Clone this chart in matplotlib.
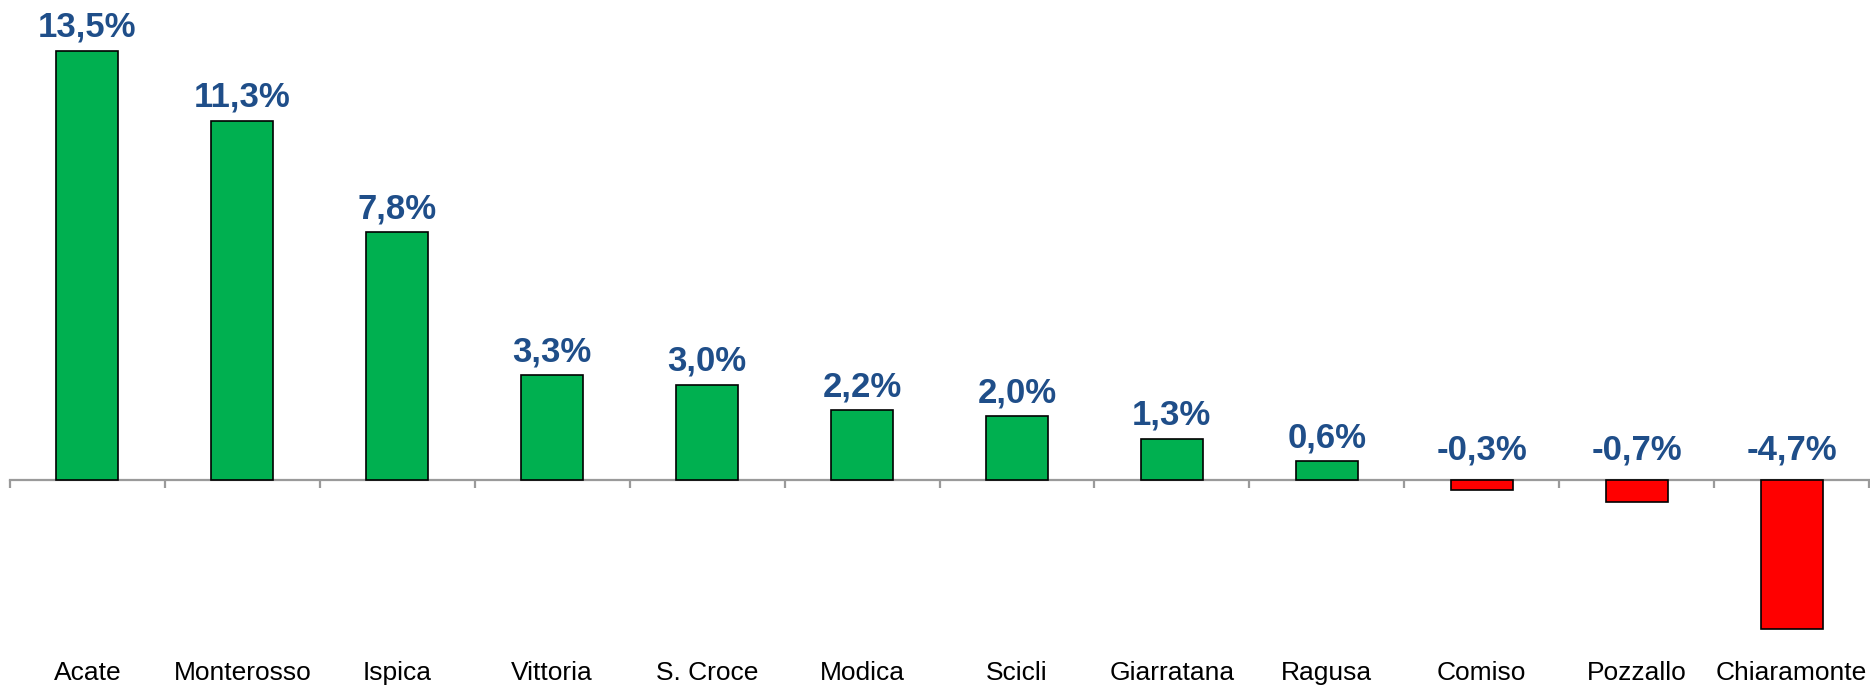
import numpy as np
import matplotlib
matplotlib.use('Agg')
import matplotlib.pyplot as plt
from matplotlib.transforms import offset_copy

comuni = ["Acate", "Monterosso", "Ispica", "Vittoria", "S. Croce", "Modica",
          "Scicli", "Giarratana", "Ragusa", "Comiso", "Pozzallo", "Chiaramonte"]
variazione = [13.5, 11.3, 7.8, 3.3, 3.0, 2.2, 2.0, 1.3, 0.6, -0.3, -0.7, -4.7]

plt.rcParams['font.family'] = ['Liberation Sans', 'DejaVu Sans']

W, H = 1870, 685
fig = plt.figure(figsize=(W / 100, H / 100), dpi=100, facecolor='white')
# axes placed in pixel units: left 10, right 1869, top 3, bottom 639
ax = fig.add_axes([10 / W, (H - 639) / H, 1859 / W, 636 / H])

x = np.arange(len(comuni))
colors = ['#00B050' if v >= 0 else '#FF0000' for v in variazione]
ax.bar(x, variazione, width=0.40, color=colors, edgecolor='black', linewidth=1.2, zorder=3)

ax.set_xlim(-0.5, len(comuni) - 0.5)
ax.set_ylim(-5, 15)

# zero axis line with boundary ticks
for s in ['top', 'right', 'left']:
    ax.spines[s].set_visible(False)
ax.spines['bottom'].set_position(('data', 0))
ax.spines['bottom'].set_color('#9a9a9a')
ax.spines['bottom'].set_linewidth(1.6)
ax.spines['bottom'].set_zorder(2)
ax.set_yticks([])
ax.set_xticks(np.arange(-0.5, len(comuni), 1.0))
ax.set_xticklabels([])
ax.tick_params(axis='x', direction='out', length=6, width=1.6, color='#9a9a9a')

# category labels at the bottom
for xi, name in zip(x, comuni):
    ax.text(xi, -0.053, name, transform=ax.get_xaxis_transform(),
            ha='center', va='center', fontsize=19, color='black')

# value labels
for xi, v in zip(x, variazione):
    base = max(v, 0)
    off = 10 if v >= 0 else 15
    tr = offset_copy(ax.transData, fig=fig, x=0, y=off, units='points')
    lab = ('%.1f%%' % v).replace('.', ',')
    ax.text(xi, base, lab, transform=tr, ha='center', va='baseline',
            fontsize=25, fontweight='bold', color='#1F4E89')

plt.savefig('out.png', dpi=100, facecolor='white')
plt.close()
